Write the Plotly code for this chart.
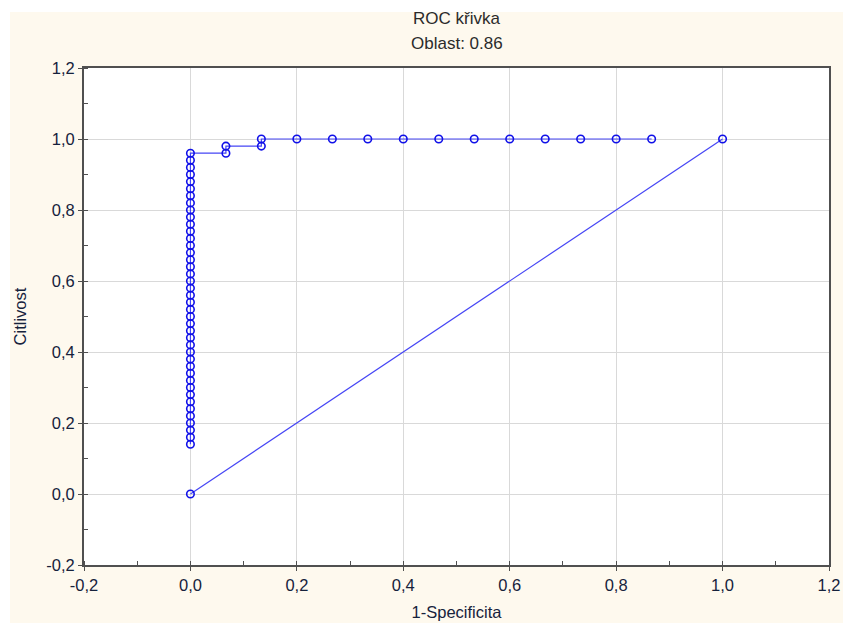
import plotly.graph_objects as go

# ROC curve points (1-Specificita, Citlivost)
roc_x = [0, 0, 0, 0, 0, 0, 0, 0, 0, 0,
         0, 0, 0, 0, 0, 0, 0, 0, 0, 0,
         0, 0, 0, 0, 0, 0, 0, 0, 0, 0,
         0, 0, 0, 0, 0, 0, 0, 0, 0, 0,
         0, 0,
         0.0667, 0.0667, 0.1333, 0.1333, 0.2, 0.2667, 0.3333, 0.4,
         0.4667, 0.5333, 0.6, 0.6667, 0.7333, 0.8, 0.8667]
roc_y = [0.14, 0.16, 0.18, 0.20, 0.22, 0.24, 0.26, 0.28, 0.30, 0.32,
         0.34, 0.36, 0.38, 0.40, 0.42, 0.44, 0.46, 0.48, 0.50, 0.52,
         0.54, 0.56, 0.58, 0.60, 0.62, 0.64, 0.66, 0.68, 0.70, 0.72,
         0.74, 0.76, 0.78, 0.80, 0.82, 0.84, 0.86, 0.88, 0.90, 0.92,
         0.94, 0.96,
         0.96, 0.98, 0.98, 1.0, 1.0, 1.0, 1.0, 1.0,
         1.0, 1.0, 1.0, 1.0, 1.0, 1.0, 1.0]

# Reference diagonal
diag_x = [0, 1]
diag_y = [0, 1]

tick_vals = [-0.2, 0.0, 0.2, 0.4, 0.6, 0.8, 1.0, 1.2]
tick_labels = ["-0,2", "0,0", "0,2", "0,4", "0,6", "0,8", "1,0", "1,2"]

title_line1 = "ROC křivka"
title_line2 = "Oblast: 0.86"
x_title = "1-Specificita"
y_title = "Citlivost"

FONT = "Liberation Sans, Arial, sans-serif"
CREAM = "#FEF9EE"
LINE = "#4646F5"
MARK = "#1010E8"
TXT = "#16223C"

L, R, T, B = 84, 14, 68, 58
PW, PH = 843 - L - R, 623 - T - B


def py(pix):
    return (623 - B - pix) / PH


fig = go.Figure()
for xs, ys in ((roc_x, roc_y), (diag_x, diag_y)):
    fig.add_trace(go.Scatter(
        x=xs, y=ys, mode="lines+markers",
        line=dict(color=LINE, width=1.2),
        marker=dict(symbol="circle-open", size=7.5, color=MARK, line=dict(width=1.6, color=MARK)),
        showlegend=False))

axis_common = dict(
    range=[-0.2, 1.2], tickvals=tick_vals, ticktext=tick_labels,
    showgrid=True, gridcolor="#D9D9D9", gridwidth=1,
    zeroline=False, showline=True, linecolor="#505050", linewidth=2, mirror=True,
    ticks="outside", ticklen=4, tickcolor="#505050", tickwidth=1,
    tickfont=dict(family=FONT, size=16.5, color=TXT),
    minor=dict(dtick=0.1, tick0=0, ticks="inside", ticklen=4, tickcolor="#505050", showgrid=False),
    automargin=False,
)

fig.update_layout(
    width=843, height=623,
    margin=dict(l=L, r=R, t=T, b=B, autoexpand=False),
    paper_bgcolor=CREAM, plot_bgcolor="white",
    xaxis=dict(axis_common, title=dict(text=x_title, standoff=14,
                                       font=dict(family=FONT, size=16.5, color=TXT))),
    yaxis=dict(axis_common, title=dict(text=y_title, standoff=15,
                                       font=dict(family=FONT, size=16.5, color=TXT))),
    annotations=[
        dict(text=title_line1, xref="paper", yref="paper", x=0.5, y=py(18),
             xanchor="center", yanchor="middle", showarrow=False,
             font=dict(family=FONT, size=17, color="#2B2B2B")),
        dict(text=title_line2, xref="paper", yref="paper", x=0.5, y=py(44),
             xanchor="center", yanchor="middle", showarrow=False,
             font=dict(family=FONT, size=17, color="#2B2B2B")),
    ],
    shapes=[
        dict(type="rect", xref="paper", yref="paper", x0=-0.2, x1=1.2,
             y0=py(12), y1=1.3, fillcolor="white", line=dict(width=0), layer="below"),
        dict(type="rect", xref="paper", yref="paper", x0=-0.2, x1=(10 - L) / PW,
             y0=-0.3, y1=1.3, fillcolor="white", line=dict(width=0), layer="below"),
    ],
)

fig.write_html("out.html", config={"displayModeBar": False},
               post_script="document.body.style.margin='0';document.body.style.overflow='hidden';")
